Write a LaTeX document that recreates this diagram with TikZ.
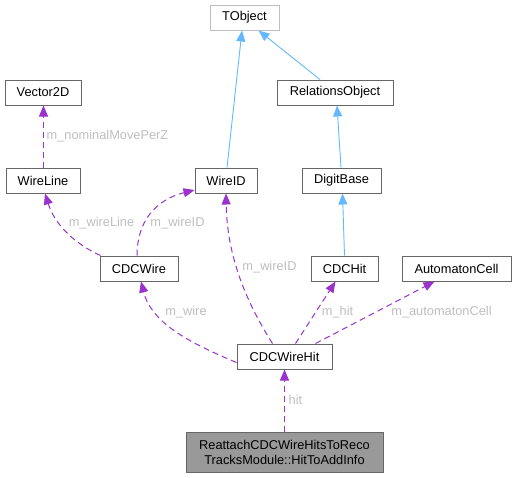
\documentclass[tikz,border=0pt]{standalone}
\usepackage{fontspec}
\setmainfont{Liberation Sans}
\usetikzlibrary{arrows.meta}
\definecolor{boxline}{HTML}{666666}
\definecolor{lightline}{HTML}{BFBFBF}
\definecolor{infofill}{HTML}{999999}
\definecolor{inherit}{HTML}{63B8FF}
\definecolor{usage}{HTML}{9A32CD}
\definecolor{lbl}{HTML}{BEBEBE}
\tikzset{
  cls/.style={draw=boxline, line width=1pt, fill=white, inner sep=0pt, minimum height=25pt,
    font=\fontsize{12.8}{15}\selectfont},
  inh/.style={draw=inherit, line width=0.9pt, -{Triangle[length=11pt,width=9pt]}},
  use/.style={draw=usage, line width=1pt, dash pattern=on 6pt off 4pt, -{Triangle[length=11pt,width=9pt]}},
  elab/.style={text=lbl, inner sep=0pt, font=\fontsize{12.8}{15}\selectfont},
}
\begin{document}
\begin{tikzpicture}[x=1pt,y=-1pt]
\useasboundingbox (0,0) rectangle (516,477);
\node[cls, draw=lightline, minimum width=69pt] (tobject) at (244.5,17.5) {TObject};
\node[cls, minimum width=76pt] (vector2d) at (43,92.5) {Vector2D};
\node[cls, minimum width=116pt] (relobj) at (335,92.5) {RelationsObject};
\node[cls, minimum width=74pt] (wireline) at (43,180.5) {WireLine};
\node[cls, minimum width=62pt] (wireid) at (226,180.5) {WireID};
\node[cls, minimum width=79pt] (digit) at (341.5,180.5) {DigitBase};
\node[cls, minimum width=78pt] (cdcwire) at (139,268.5) {CDCWire};
\node[cls, minimum width=67pt] (cdchit) at (344.5,268.5) {CDCHit};
\node[cls, minimum width=109pt] (autocell) at (456.5,268.5) {AutomatonCell};
\node[cls, minimum width=95pt] (cdcwirehit) at (284.5,356.5) {CDCWireHit};
\node[cls, fill=infofill, minimum width=197pt, minimum height=40pt, align=center] (info) at (284.5,452)
  {ReattachCDCWireHitsToReco\\TracksModule::HitToAddInfo};

% inheritance
\draw[inh] ([xshift=1pt]wireid.north) -- ([xshift=-2.5pt]tobject.south);
\draw[inh] ([xshift=-15pt]relobj.north) -- ([xshift=14pt]tobject.south);
\draw[inh] ([xshift=-0.5pt]digit.north) -- ([xshift=2pt]relobj.south);
\draw[inh] (cdchit.north) -- ([xshift=1pt]digit.south);

% usage
\draw[use] ([xshift=0.5pt]wireline.north) -- ([xshift=0.5pt]vector2d.south);
\node[elab] (l1) at (107.5,136) {m\_nominalMovePerZ};

\draw[use] ([xshift=1pt]cdcwire.north west) .. controls (75,244) and (55,225) .. ([xshift=2pt]wireline.south);
\node[elab] (l2) at (101.5,223) {m\_wireLine};

\draw[use] ([xshift=-2pt]cdcwire.north) .. controls (137,222) and (155,200) .. ([yshift=-9.5pt]wireid.west);
\node[elab] (l3) at (177.5,223) {m\_wireID};

\draw[use] ([xshift=-12pt]cdcwirehit.north) .. controls (245,300) and (227,255) .. (wireid.south);
\node[elab] (l4) at (269.5,267) {m\_wireID};

\draw[use] ([yshift=-6pt]cdcwirehit.west) .. controls (195,345) and (152,325) .. ([xshift=2pt]cdcwire.south);
\node[elab] (l5) at (186,312) {m\_wire};

\draw[use] ([xshift=11pt]cdcwirehit.north) -- ([xshift=-9pt]cdchit.south);
\node[elab] (l6) at (337.5,312) {m\_hit};

\draw[use] ([xshift=31pt]cdcwirehit.north) -- ([xshift=-22pt]autocell.south);
\node[elab] (l7) at (441.5,312) {m\_automatonCell};

\draw[use] (info.north) -- (cdcwirehit.south);
\node[elab] (l8) at (295.5,400) {hit};
\end{tikzpicture}
\end{document}
